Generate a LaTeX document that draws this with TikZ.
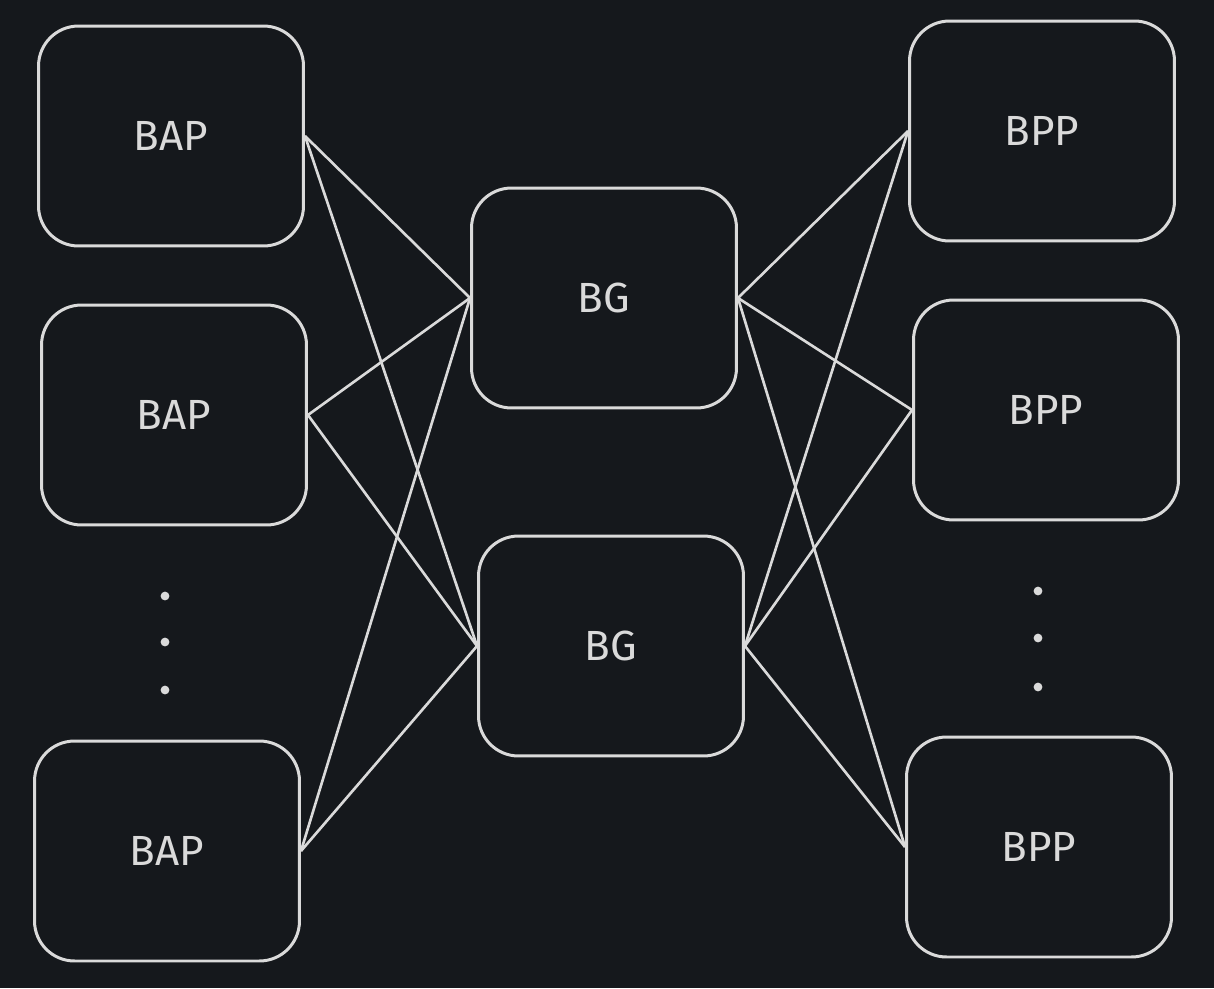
\documentclass[tikz,border=0pt]{standalone}
\usepackage{fontspec}
\setmainfont{Fira Sans}
\usetikzlibrary{positioning}

\definecolor{bgdark}{HTML}{15181C}
\definecolor{inkgray}{HTML}{DADADA}

\begin{document}
\begin{tikzpicture}[
    x=0.02cm, y=-0.02cm,
    font=\fontsize{24}{28}\selectfont,
    unit/.style={draw=inkgray, line width=1.7pt, rounded corners=0.8cm,
      text=inkgray, minimum width=5.3cm, minimum height=4.4cm, inner sep=0pt},
    link/.style={draw=inkgray, line width=1.5pt},
    gap/.style={fill=inkgray, circle, inner sep=0pt, minimum size=5pt}
  ]
  \fill[bgdark] (0,0) rectangle (1214,988);
  \useasboundingbox (0,0) rectangle (1214,988);

  % access points
  \node[unit] (bap1) at (171,136) {BAP};
  \node[unit] (bap2) at (174,415) {BAP};
  \node[unit] (bap3) at (167,851) {BAP};

  % gateways
  \node[unit] (bg1) at (604,298) {BG};
  \node[unit] (bg2) at (611,646) {BG};

  % processing
  \node[unit] (bpp1) at (1042,131) {BPP};
  \node[unit] (bpp2) at (1046,410) {BPP};
  \node[unit] (bpp3) at (1039,847) {BPP};

  \foreach \y [count=\i] in {596,642,690}
    \node[gap] (ldot\i) at (165,\y) {};
  \foreach \y [count=\i] in {591,638,687}
    \node[gap] (rdot\i) at (1038,\y) {};

  \foreach \a in {bap1,bap2,bap3}
    \foreach \g in {bg1,bg2}
      \draw[link] (\a.east) -- (\g.west);
  \foreach \g in {bg1,bg2}
    \foreach \p in {bpp1,bpp2,bpp3}
      \draw[link] (\g.east) -- (\p.west);
\end{tikzpicture}
\end{document}
